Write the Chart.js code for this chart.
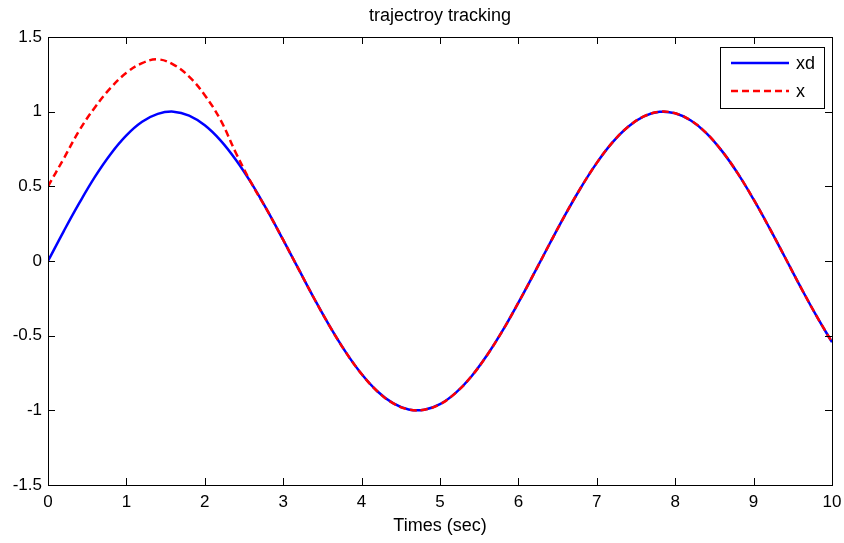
<!DOCTYPE html>
<html>
<head>
<meta charset="utf-8">
<script src="https://cdn.jsdelivr.net/npm/chart.js@4/dist/chart.umd.min.js"></script>
<style>
  html, body { margin: 0; padding: 0; background: #fff; }
  #wrap { width: 844px; height: 543px; }
</style>
</head>
<body>
<div id="wrap"><canvas id="lineChart" width="844" height="543"></canvas></div>
<script>
// time samples (sec)
const times = [0, 0.2, 0.4, 0.6, 0.8, 1.0, 1.2, 1.4, 1.6, 1.8, 2.0, 2.2, 2.4, 2.6, 2.8, 3.0,
  3.2, 3.4, 3.6, 3.8, 4.0, 4.2, 4.4, 4.6, 4.8, 5.0, 5.2, 5.4, 5.6, 5.8, 6.0,
  6.2, 6.4, 6.6, 6.8, 7.0, 7.2, 7.4, 7.6, 7.8, 8.0, 8.2, 8.4, 8.6, 8.8, 9.0,
  9.2, 9.4, 9.6, 9.8, 10.0];

// desired trajectory xd
const xdValues = [0, 0.199, 0.389, 0.565, 0.717, 0.841, 0.932, 0.985, 1.000, 0.974, 0.909, 0.808, 0.675, 0.516, 0.335, 0.141,
  -0.058, -0.256, -0.443, -0.612, -0.757, -0.872, -0.952, -0.994, -0.996, -0.959, -0.883, -0.773, -0.631, -0.465, -0.279,
  -0.083, 0.117, 0.312, 0.494, 0.657, 0.794, 0.899, 0.968, 0.999, 0.989, 0.941, 0.855, 0.734, 0.585, 0.412,
  0.223, 0.025, -0.175, -0.366, -0.544];

const xValues = [0.500, 0.685, 0.875, 1.030, 1.160, 1.260, 1.325, 1.350, 1.315, 1.235, 1.110, 0.945, 0.720, 0.516, 0.335, 0.141,
  -0.058, -0.256, -0.443, -0.612, -0.757, -0.872, -0.952, -0.994, -0.996, -0.959, -0.883, -0.773, -0.631, -0.465, -0.279,
  -0.083, 0.117, 0.312, 0.494, 0.657, 0.794, 0.899, 0.968, 0.999, 0.989, 0.941, 0.855, 0.734, 0.585, 0.412,
  0.223, 0.025, -0.175, -0.366, -0.544];

const seriesNames = ['xd', 'x'];
const xTicks = [0, 1, 2, 3, 4, 5, 6, 7, 8, 9, 10];
const yTicks = [-1.5, -1, -0.5, 0, 0.5, 1, 1.5];
const chartTitle = 'trajectroy tracking';

const FONT = '"Liberation Sans", Arial, sans-serif';

// matlab style box with inward ticks, title and legend
const boxPlugin = {
  id: 'boxPlugin',
  afterDraw(chart) {
    const ctx = chart.ctx;
    const a = chart.chartArea;
    const xs = chart.scales.x, ys = chart.scales.y;
    ctx.save();
    ctx.strokeStyle = '#000';
    ctx.lineWidth = 1;
    ctx.strokeRect(Math.round(a.left) + 0.5, Math.round(a.top) + 0.5,
      Math.round(a.right - a.left), Math.round(a.bottom - a.top));
    ctx.beginPath();
    const tl = 7;
    xTicks.forEach(v => {
      const px = Math.round(xs.getPixelForValue(v)) + 0.5;
      ctx.moveTo(px, a.bottom); ctx.lineTo(px, a.bottom - tl);
      ctx.moveTo(px, a.top); ctx.lineTo(px, a.top + tl);
    });
    yTicks.forEach(v => {
      const py = Math.round(ys.getPixelForValue(v)) + 0.5;
      ctx.moveTo(a.left, py); ctx.lineTo(a.left + tl, py);
      ctx.moveTo(a.right, py); ctx.lineTo(a.right - tl, py);
    });
    ctx.stroke();

    // title centred over the axes
    ctx.fillStyle = '#000';
    ctx.font = '18px ' + FONT;
    ctx.textAlign = 'center';
    ctx.textBaseline = 'middle';
    ctx.fillText(chartTitle, (a.left + a.right) / 2, 16);

    // legend box, top right
    const lx = 720.5, ly = 47.5, lw = 104, lh = 61;
    ctx.fillStyle = '#fff';
    ctx.fillRect(lx, ly, lw, lh);
    ctx.strokeRect(lx, ly, lw, lh);
    ctx.font = '18px ' + FONT;
    ctx.textAlign = 'left';
    chart.data.datasets.forEach((ds, i) => {
      const yy = 63 + i * 28;
      ctx.beginPath();
      ctx.strokeStyle = ds.borderColor;
      ctx.lineWidth = ds.borderWidth;
      ctx.setLineDash(ds.borderDash || []);
      ctx.moveTo(731, yy); ctx.lineTo(789, yy);
      ctx.stroke();
      ctx.setLineDash([]);
      ctx.fillStyle = '#000';
      ctx.fillText(ds.label, 796, yy + 1);
    });
    ctx.restore();
  }
};

const ctx = document.getElementById('lineChart').getContext('2d');
const lineChart = new Chart(ctx, {
  type: 'line',
  data: {
    datasets: [
      {
        label: seriesNames[0],
        data: times.map((t, i) => ({x: t, y: xdValues[i]})),
        borderColor: '#0000ff',
        borderWidth: 2.5,
        pointRadius: 0,
        tension: 0.4,
        order: 1
      },
      {
        label: seriesNames[1],
        data: times.map((t, i) => ({x: t, y: xValues[i]})),
        borderColor: '#ff0000',
        borderWidth: 2.5,
        borderDash: [7, 4],
        pointRadius: 0,
        tension: 0.4,
        order: 0
      }
    ]
  },
  options: {
    responsive: false,
    animation: false,
    layout: { padding: { left: 0, right: 12, top: 37, bottom: 0 } },
    plugins: {
      legend: { display: false },
      tooltip: { enabled: false },
      title: { display: false }
    },
    scales: {
      x: {
        type: 'linear',
        min: 0, max: 10,
        grid: { display: false, drawTicks: false },
        border: { display: false },
        afterFit(scale) { scale.height = 58; scale.paddingLeft = 0; scale.paddingRight = 0; },
        afterBuildTicks(scale) { scale.ticks = xTicks.map(v => ({value: v})); },
        ticks: { color: '#000', padding: 7, font: { family: FONT, size: 17 }, maxRotation: 0 },
        title: {
          display: true, text: 'Times (sec)', color: '#000',
          font: { family: FONT, size: 18 }, padding: { top: 2, bottom: 6 }
        }
      },
      y: {
        type: 'linear',
        min: -1.5, max: 1.5,
        grid: { display: false, drawTicks: false },
        border: { display: false },
        afterFit(scale) { scale.width = 48; scale.paddingTop = 0; scale.paddingBottom = 0; },
        afterBuildTicks(scale) { scale.ticks = yTicks.map(v => ({value: v})); },
        ticks: {
          color: '#000', padding: 6, font: { family: FONT, size: 17 },
          callback: v => String(v)
        }
      }
    }
  },
  plugins: [boxPlugin]
});
</script>
</body>
</html>
